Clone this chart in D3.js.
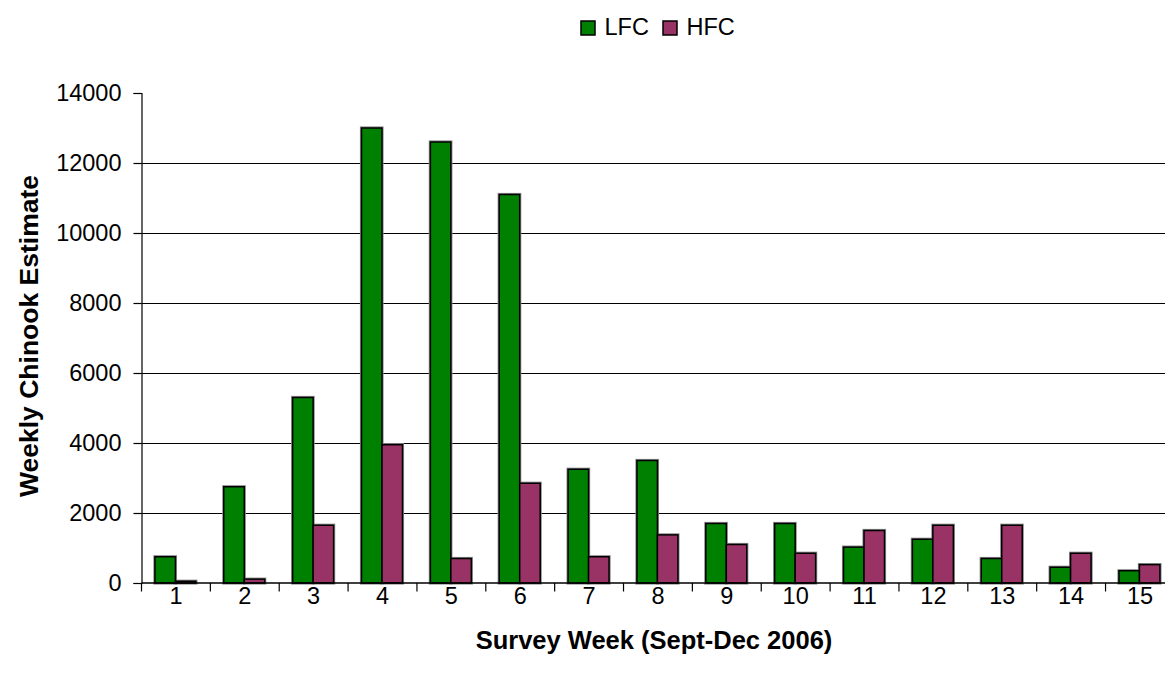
<!DOCTYPE html>
<html>
<head>
<meta charset="utf-8">
<script src="https://cdn.jsdelivr.net/npm/d3@7"></script>
<style>
  html, body { margin: 0; padding: 0; background: #fff; }
  svg { display: block; }
  text { font-family: "Liberation Sans", Arial, sans-serif; fill: #000; }
</style>
</head>
<body>
<svg id="chart" width="1165" height="681"></svg>
<script>
// Weekly Chinook estimates by survey week
const weeks = ["1","2","3","4","5","6","7","8","9","10","11","12","13","14","15"];
const seriesNames = ["LFC", "HFC"];
const lfcValues = [750, 2750, 5300, 13000, 12600, 11100, 3250, 3500, 1700, 1700, 1025, 1250, 700, 450, 350];
const hfcValues = [50, 110, 1650, 3950, 700, 2850, 750, 1375, 1100, 850, 1500, 1650, 1650, 850, 525];
const yTicks = [0, 2000, 4000, 6000, 8000, 10000, 12000, 14000];
const seriesColors = ["#008000", "#993366"];

const svg = d3.select("#chart");
const margin = { left: 141.5, top: 93, bottom: 583 };
const step = 68.86;
const plotRight = margin.left + step * weeks.length;
const tickFont = "23.5px";

const x = d3.scaleBand().domain(weeks).range([margin.left, plotRight]).padding(0);
const xInner = d3.scaleBand().domain(seriesNames)
  .range([x.bandwidth() * 0.195, x.bandwidth() * 0.79]).padding(0);
const y = d3.scaleLinear().domain([0, 14000]).range([margin.bottom, margin.top]);
const color = d3.scaleOrdinal().domain(seriesNames).range(seriesColors);

const rows = weeks.map((w, i) => ({ week: w, values: [
  { key: "LFC", value: lfcValues[i] },
  { key: "HFC", value: hfcValues[i] }
]}));

// horizontal gridlines (not at the top value)
svg.append("g")
  .selectAll("line")
  .data(yTicks.filter(t => t > 0 && t < 14000))
  .join("line")
  .attr("x1", margin.left).attr("x2", plotRight)
  .attr("y1", d => Math.round(y(d)) + 0.5).attr("y2", d => Math.round(y(d)) + 0.5)
  .attr("stroke", "#000").attr("stroke-width", 1);

// bars
const groups = svg.append("g")
  .selectAll("g")
  .data(rows)
  .join("g")
  .attr("transform", d => `translate(${x(d.week)},0)`);

// soft halo under each bar
groups.selectAll("rect.halo")
  .data(d => d.values)
  .join("rect")
  .attr("class", "halo")
  .attr("x", d => xInner(d.key))
  .attr("y", d => y(d.value))
  .attr("width", xInner.bandwidth())
  .attr("height", d => y(0) - y(d.value))
  .attr("fill", "none")
  .attr("stroke", "#8a8a8a")
  .attr("stroke-width", 3.2);

groups.selectAll("rect.bar")
  .data(d => d.values)
  .join("rect")
  .attr("class", "bar")
  .attr("x", d => xInner(d.key))
  .attr("y", d => y(d.value))
  .attr("width", xInner.bandwidth())
  .attr("height", d => y(0) - y(d.value))
  .attr("fill", d => color(d.key))
  .attr("stroke", "#000")
  .attr("stroke-width", 1.5);

// y axis
const yAxis = d3.axisLeft(y).tickValues(yTicks).tickSize(8).tickPadding(12).tickFormat(d3.format("d"));
const gy = svg.append("g")
  .attr("transform", `translate(${margin.left},0)`)
  .call(yAxis);
gy.select(".domain").attr("stroke", "#000").attr("stroke-width", 1.2);
gy.selectAll(".tick line").attr("stroke", "#000").attr("stroke-width", 1.2);
gy.selectAll(".tick text")
  .style("font-family", "'Liberation Sans', Arial, sans-serif")
  .style("font-size", tickFont).attr("fill", "#000");

// x axis: ticks at category boundaries, labels centred in each category
const gx = svg.append("g");
gx.append("line")
  .attr("x1", margin.left).attr("x2", plotRight)
  .attr("y1", margin.bottom).attr("y2", margin.bottom)
  .attr("stroke", "#000").attr("stroke-width", 1.5);
const boundaries = weeks.map(w => x(w)).concat([plotRight]);
gx.selectAll("line.tick")
  .data(boundaries)
  .join("line")
  .attr("class", "tick")
  .attr("x1", d => d).attr("x2", d => d)
  .attr("y1", margin.bottom).attr("y2", margin.bottom + 8.5)
  .attr("stroke", "#000").attr("stroke-width", 1.2);
gx.selectAll("text")
  .data(weeks)
  .join("text")
  .attr("x", d => x(d) + x.bandwidth() / 2)
  .attr("y", 604)
  .attr("text-anchor", "middle")
  .style("font-size", tickFont)
  .text(d => d);

// axis titles
svg.append("text")
  .attr("x", 654).attr("y", 649)
  .attr("text-anchor", "middle")
  .style("font-size", "25.5px").style("font-weight", "bold")
  .text("Survey Week (Sept-Dec 2006)");

svg.append("text")
  .attr("transform", "translate(38,336) rotate(-90)")
  .attr("text-anchor", "middle")
  .style("font-size", "26.5px").style("font-weight", "bold")
  .text("Weekly Chinook Estimate");

// legend
const legendItems = [
  { key: "LFC", x: 581 },
  { key: "HFC", x: 663 }
];
const lg = svg.append("g").selectAll("g").data(legendItems).join("g")
  .attr("transform", d => `translate(${d.x},21)`);
lg.append("rect")
  .attr("width", 14).attr("height", 14)
  .attr("fill", d => color(d.key))
  .attr("stroke", "#000").attr("stroke-width", 1.5);
lg.append("text")
  .attr("x", 23.5).attr("y", 13.5)
  .style("font-size", tickFont)
  .text(d => d.key);
</script>
</body>
</html>
